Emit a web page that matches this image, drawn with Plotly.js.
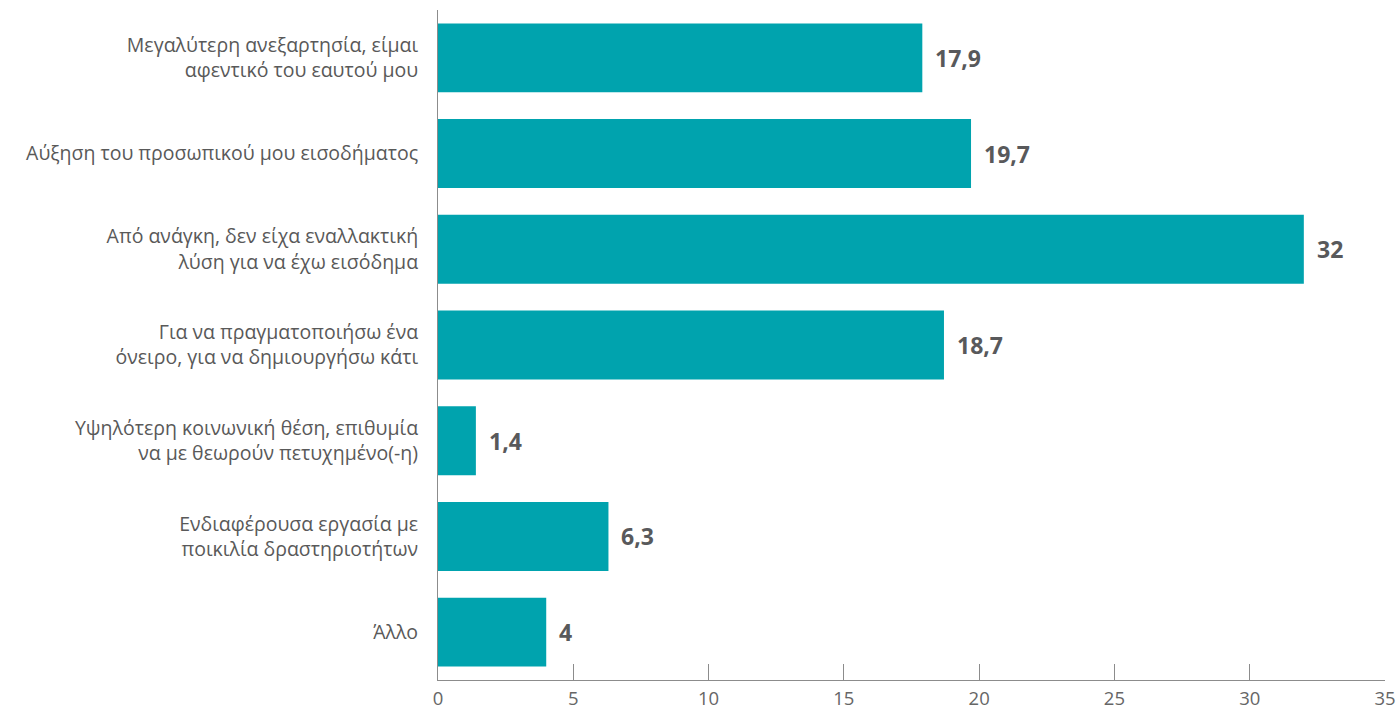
<!DOCTYPE html>
<html>
<head>
<meta charset="utf-8">
<script src="https://cdn.plot.ly/plotly-3.0.1.min.js"></script>
<style>html,body{margin:0;padding:0;background:#fff;}#chart{width:1396px;height:712px;}</style>
</head>
<body>
<div id="chart"></div>
<script>
const categories = [
  "Μεγαλύτερη ανεξαρτησία, είμαι<br>αφεντικό του εαυτού μου",
  "Αύξηση του προσωπικού μου εισοδήματος",
  "Από ανάγκη, δεν είχα εναλλακτική<br>λύση για να έχω εισόδημα",
  "Για να πραγματοποιήσω ένα<br>όνειρο, για να δημιουργήσω κάτι",
  "Υψηλότερη κοινωνική θέση, επιθυμία<br>να με θεωρούν πετυχημένο(-η)",
  "Ενδιαφέρουσα εργασία με<br>ποικιλία δραστηριοτήτων",
  "Άλλο"
];
const values = [17.9, 19.7, 32, 18.7, 1.4, 6.3, 4];
const xTicks = [0, 5, 10, 15, 20, 25, 30, 35];

const labels = values.map(v => String(v).replace('.', ','));

const trace = {
  type: 'bar',
  orientation: 'h',
  x: values,
  y: categories,
  marker: {color: '#00A3AE'},
  hoverinfo: 'none'
};

const annotations = values.map((v, i) => ({
  x: v, y: categories[i], xref: 'x', yref: 'y',
  text: labels[i], showarrow: false, xanchor: 'left', xshift: 11,
  font: {family: 'Open Sans, sans-serif', size: 23, color: '#58595b', weight: 'bold'}
}));

const layout = {
  width: 1396, height: 712,
  margin: {l: 438, r: 11, t: 10, b: 32},
  paper_bgcolor: '#ffffff', plot_bgcolor: '#ffffff',
  showlegend: false,
  bargap: 0.28,
  font: {family: 'Open Sans, sans-serif', color: '#595959'},
  xaxis: {
    range: [0, 35], tickvals: xTicks, ticktext: xTicks.map(String),
    showgrid: false, zeroline: false,
    showline: true, linecolor: '#8c8c8c', linewidth: 1,
    ticks: 'inside', ticklen: 16, tickcolor: '#8c8c8c', tickwidth: 1,
    ticklabelstandoff: 2, ticklabeloverflow: 'allow',
    tickfont: {size: 18.5, color: '#666666'}
  },
  yaxis: {
    autorange: 'reversed', showgrid: false, zeroline: false,
    showline: true, linecolor: '#8c8c8c', linewidth: 1,
    ticks: '', ticklabelstandoff: 15,
    tickfont: {size: 19.5, color: '#595959'}
  },
  annotations: annotations
};

Plotly.newPlot('chart', [trace], layout, {displayModeBar: false, staticPlot: true});
</script>
</body>
</html>
